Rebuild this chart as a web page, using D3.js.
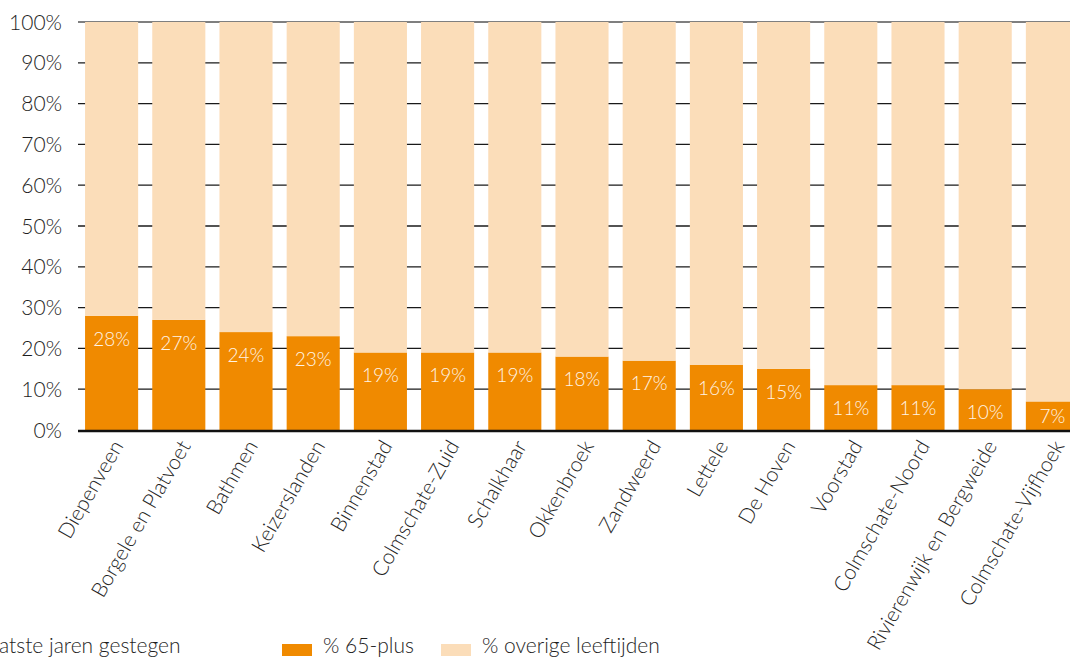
<!DOCTYPE html>
<html>
<head>
<meta charset="utf-8">
<script src="https://cdn.jsdelivr.net/npm/d3@7"></script>
<style>
  body { margin: 0; background: #fff; }
  svg text { font-family: Lato, "Open Sans", sans-serif; font-weight: 300; fill: #1e1e1e; }
</style>
</head>
<body>
<svg id="chart" width="1070" height="660"></svg>
<script>
// wijken, gesorteerd op aandeel 65-plus
var wijken = ['Diepenveen', 'Borgele en Platvoet', 'Bathmen', 'Keizerslanden', 'Binnenstad',
  'Colmschate-Zuid', 'Schalkhaar', 'Okkenbroek', 'Zandweerd', 'Lettele', 'De Hoven',
  'Voorstad', 'Colmschate-Noord', 'Rivierenwijk en Bergweide', 'Colmschate-Vijfhoek'];
var plus65 = [28, 27, 24, 23, 19, 19, 19, 18, 17, 16, 15, 11, 11, 10, 7];
var overig = plus65.map(v => 100 - v);
var yTicks = [0, 10, 20, 30, 40, 50, 60, 70, 80, 90, 100];
var series = ['% 65-plus', '% overige leeftijden'];
var colors = ['#f08a00', '#fbddb9'];

var svg = d3.select('#chart');
var mLeft = 78, mRight = 1086, mTop = 22, mBottom = 430;

var x = d3.scaleBand().domain(wijken).range([mLeft, mRight]).paddingInner(0.21).paddingOuter(0.105);
var y = d3.scaleLinear().domain([0, 100]).range([mBottom, mTop]);

// gridlines (behind bars)
svg.append('g')
  .selectAll('line')
  .data(yTicks.filter(t => t > 0))
  .enter().append('line')
  .attr('x1', mLeft).attr('x2', mRight)
  .attr('y1', d => y(d)).attr('y2', d => y(d))
  .attr('stroke', d => d === 100 ? '#555' : '#1a1a1a')
  .attr('stroke-width', 1.3);

// y labels
svg.append('g')
  .selectAll('text')
  .data(yTicks)
  .enter().append('text')
  .attr('x', 62)
  .attr('y', d => y(d))
  .attr('dy', '0.36em')
  .attr('text-anchor', 'end')
  .style('font-size', '21px')
  .text(d => d + '%');

var rows = wijken.map((w, i) => ({wijk: w, plus: plus65[i], rest: overig[i]}));
var stack = d3.stack().keys(['plus', 'rest'])(rows);

svg.append('g')
  .selectAll('g')
  .data(stack)
  .enter().append('g')
  .attr('fill', (d, i) => colors[i])
  .selectAll('rect')
  .data(d => d)
  .enter().append('rect')
  .attr('x', d => x(d.data.wijk))
  .attr('width', x.bandwidth())
  .attr('y', d => y(d[1]))
  .attr('height', d => y(d[0]) - y(d[1]));

// value labels
svg.append('g')
  .selectAll('text')
  .data(rows)
  .enter().append('text')
  .attr('x', d => x(d.wijk) + x.bandwidth() / 2)
  .attr('y', d => Math.min(y(d.plus) + 23, mBottom - 14))
  .attr('dy', '0.36em')
  .attr('text-anchor', 'middle')
  .style('font-size', '19px')
  .style('fill', '#fff4e6')
  .text(d => d.plus + '%');

// x axis line
svg.append('line')
  .attr('x1', mLeft).attr('x2', mRight)
  .attr('y1', mBottom + 1).attr('y2', mBottom + 1)
  .attr('stroke', '#111').attr('stroke-width', 2.5);

// x labels
svg.append('g')
  .selectAll('text')
  .data(wijken)
  .enter().append('text')
  .attr('transform', d => 'translate(' + (x(d) + x.bandwidth() / 2 + 6) + ',' + (mBottom + 12) + ') rotate(-60)')
  .attr('dy', '0.36em')
  .attr('text-anchor', 'end')
  .style('font-size', '21px')
  .text(d => d);

// cut-off title fragment
svg.append('text')
  .attr('x', -1).attr('y', 653)
  .style('font-size', '21px')
  .text('atste jaren gestegen');

// legend
var legend = svg.append('g')
  .selectAll('g')
  .data(series)
  .enter().append('g')
  .attr('transform', (d, i) => 'translate(' + (282 + i * 159) + ',644)');
legend.append('rect').attr('width', 30).attr('height', 12).attr('fill', (d, i) => colors[i]);
legend.append('text')
  .attr('x', 41).attr('y', 9)
  .style('font-size', '21px')
  .text(d => d);
</script>
</body>
</html>
